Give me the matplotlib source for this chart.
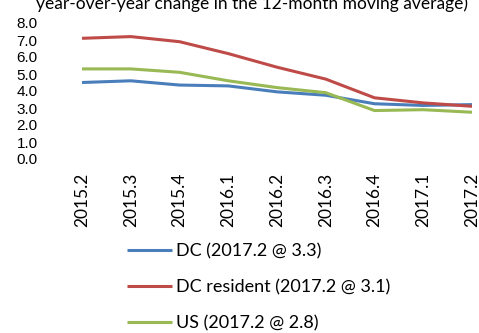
import numpy as np
from matplotlib import pyplot as plt

quarters = ["2015.2", "2015.3", "2015.4", "2016.1", "2016.2",
            "2016.3", "2016.4", "2017.1", "2017.2"]
dc = [4.5, 4.6, 4.35, 4.3, 3.95, 3.75, 3.25, 3.15, 3.2]
dc_resident = [7.1, 7.2, 6.9, 6.2, 5.4, 4.7, 3.6, 3.3, 3.1]
us = [5.3, 5.3, 5.1, 4.6, 4.2, 3.9, 2.85, 2.9, 2.75]

labels = ["DC (2017.2 @ 3.3)", "DC resident (2017.2 @ 3.1)", "US (2017.2 @ 2.8)"]
colors = ["#4a7ebb", "#be4b48", "#98b954"]

W, H = 479, 333
fig = plt.figure(figsize=(W / 100, H / 100), dpi=100)
ax = fig.add_axes([82 / W, 1 - 159 / H, (472 - 82) / W, (159 - 23) / H])

x = np.arange(len(quarters))
for vals, lab, c in zip([dc, dc_resident, us], labels, colors):
    ax.plot(x, vals, color=c, lw=2.2, label=lab, solid_capstyle="butt")

ax.set_xlim(0, len(quarters) - 1)
ax.set_ylim(0, 8)
ax.set_yticks(np.arange(0, 9, 1))
ax.set_yticklabels([f"{v:.1f}" for v in np.arange(0, 9, 1)],
                   fontfamily="Liberation Sans", fontsize=11)
ax.set_xticks(x)
ax.set_xticklabels(quarters, rotation=90, fontfamily="Lato", fontsize=12.5)
ax.tick_params(axis="y", length=0, pad=32)
ax.tick_params(axis="x", length=0, pad=10)
for s in ax.spines.values():
    s.set_visible(False)

# title sits mostly above the top edge, as in the source image
fig.text(252 / W, 1 - 9 / H, "year-over-year change in the 12-month moving average)",
         ha="center", va="baseline", fontfamily="Lato", fontsize=12.5)

ax.legend(loc="upper left", bbox_to_anchor=(127 / W, 1 - 243 / H),
          bbox_transform=fig.transFigure, frameon=False,
          prop={"family": "Lato", "size": 13}, handlelength=2.5,
          handletextpad=0.2, labelspacing=1.1, borderaxespad=0, borderpad=0)

fig.savefig("out.png", dpi=100)
